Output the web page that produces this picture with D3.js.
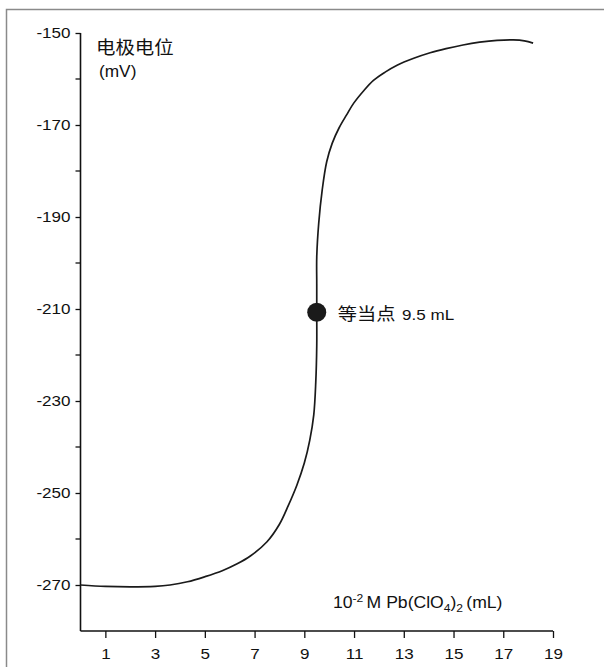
<!DOCTYPE html>
<html>
<head>
<meta charset="utf-8">
<script src="https://cdn.jsdelivr.net/npm/d3@7/dist/d3.min.js"></script>
<style>
  html, body { margin: 0; padding: 0; background: #fff; }
  svg { display: block; }
  text { font-family: "Liberation Sans", Arial, "Noto Sans CJK SC", sans-serif; fill: #111; }
  .cjk { font-family: "Noto Sans CJK SC", "Liberation Sans", sans-serif; }
</style>
</head>
<body>
<svg id="chart" width="604" height="667"></svg>
<script>
// Titrant volume (mL) and measured electrode potential (mV)
const volume = [0.0, 1.0, 2.0, 3.0, 3.6, 4.3, 5.0, 5.7, 6.3, 6.83, 7.5, 8.0, 8.35, 8.7, 9.0, 9.22, 9.38, 9.46, 9.5, 9.5, 9.5, 9.5, 9.58, 9.72, 9.9, 10.12, 10.4, 10.7, 10.98, 11.38, 11.78, 12.25, 12.73, 13.4, 14.06, 14.7, 15.38, 16.05, 16.75, 17.4, 17.85, 18.2];
const potential = [-270.0, -270.3, -270.4, -270.3, -270.0, -269.3, -268.2, -266.9, -265.4, -263.7, -260.6, -256.8, -252.8, -248.3, -243.5, -238.5, -233.0, -226.0, -218.0, -210.7, -204.5, -198.7, -191.3, -184.1, -178.0, -174.0, -170.6, -167.8, -165.3, -162.6, -160.3, -158.5, -157.0, -155.5, -154.3, -153.4, -152.6, -152.0, -151.6, -151.5, -151.7, -152.2];

// Equivalence point
const eqVolume = [9.5];
const eqPotential = [-210.7];

// Axis ticks
const xTicks = [1, 3, 5, 7, 9, 11, 13, 15, 17, 19];
const yMajorTicks = [-150, -170, -190, -210, -230, -250, -270];
const yMinorTicks = [-160, -180, -200, -220, -240, -260];

const svg = d3.select("#chart");
const SX = 1.1; // horizontal stretch of lettering

// widen text horizontally while keeping its anchor point in place
function stretch(sel, s) {
  sel.each(function () {
    const t = d3.select(this);
    const x0 = +t.attr("x") || 0;
    t.attr("x", x0 / s).attr("transform", `scale(${s},1)`);
  });
}

// Outer frame
svg.append("rect")
  .attr("x", 6.5).attr("y", 9.5)
  .attr("width", 640).attr("height", 700)
  .attr("fill", "none").attr("stroke", "#8a8a8a").attr("stroke-width", 1.5);

const x = d3.scaleLinear().domain([0, 19]).range([80.5, 553]);
const y = d3.scaleLinear().domain([-280, -150]).range([631, 33]);

// Y axis
const yAxis = svg.append("g")
  .attr("transform", `translate(${x(0)},0)`)
  .call(d3.axisLeft(y).tickValues(yMajorTicks).tickSize(5).tickPadding(5).tickFormat(d => String(d)));
yAxis.select(".domain").attr("d", `M0,${y(-150)}V${y(-280)}`).attr("stroke", "#111").attr("stroke-width", 1.6);
yAxis.selectAll(".tick line").attr("stroke", "#111").attr("stroke-width", 1.3);
yAxis.selectAll(".tick text")
  .style("font-family", '"Liberation Sans", Arial, sans-serif')
  .attr("font-size", 15.5).attr("fill", "#111");
stretch(yAxis.selectAll(".tick text"), SX);

svg.append("g").selectAll("line")
  .data(yMinorTicks).join("line")
  .attr("x1", x(0) - 5).attr("x2", x(0))
  .attr("y1", d => y(d)).attr("y2", d => y(d))
  .attr("stroke", "#111").attr("stroke-width", 1.3);

// X axis
const xAxis = svg.append("g")
  .attr("transform", `translate(0,${y(-280)})`)
  .call(d3.axisBottom(x).tickValues(xTicks).tickSize(7).tickFormat(d => String(d)));
xAxis.select(".domain").attr("d", `M${x(0)},0H${x(19)}`).attr("stroke", "#111").attr("stroke-width", 1.6);
xAxis.selectAll(".tick line").attr("stroke", "#111").attr("stroke-width", 1.3);
xAxis.selectAll(".tick text")
  .style("font-family", '"Liberation Sans", Arial, sans-serif')
  .attr("font-size", 15.5).attr("fill", "#111")
  .attr("y", 28).attr("dy", null);
stretch(xAxis.selectAll(".tick text"), SX);

// Titration curve
const pts = volume.map((v, i) => [v, potential[i]]);
const line = d3.line()
  .x(d => x(d[0])).y(d => y(d[1]))
  .curve(d3.curveCatmullRom.alpha(0.5));
svg.append("path")
  .datum(pts)
  .attr("d", line)
  .attr("fill", "none").attr("stroke", "#1a1a1a").attr("stroke-width", 1.7);

// Equivalence point marker
svg.append("g").selectAll("circle")
  .data(eqVolume.map((v, i) => [v, eqPotential[i]])).join("circle")
  .attr("cx", d => x(d[0])).attr("cy", d => y(d[1]))
  .attr("r", 9.5).attr("fill", "#1a1a1a");

const eqLabel = svg.append("text")
  .attr("x", x(eqVolume[0]) + 21).attr("y", y(eqPotential[0]) + 8);
eqLabel.append("tspan").attr("class", "cjk").attr("font-size", 17.5).text("等当点");
eqLabel.append("tspan").attr("font-size", 15.5).attr("dx", 6).text(`${eqVolume[0]} mL`);
stretch(eqLabel, SX);

// Y axis title
const yt1 = svg.append("text").attr("class", "cjk")
  .attr("x", 96).attr("y", 54).attr("font-size", 18).text("电极电位");
const yt2 = svg.append("text")
  .attr("x", 99).attr("y", 77).attr("font-size", 16).text("(mV)");
stretch(yt1, 1.08);
stretch(yt2, 1.08);

// X axis title
const xt = svg.append("text").attr("x", 333).attr("y", 608).attr("font-size", 16);
xt.append("tspan").text("10");
xt.append("tspan").attr("font-size", 11).attr("dy", -6).text("-2");
xt.append("tspan").attr("dy", 6).attr("dx", 3).text("M Pb(ClO");
xt.append("tspan").attr("font-size", 11).attr("dy", 4).text("4");
xt.append("tspan").attr("dy", -4).text(")");
xt.append("tspan").attr("font-size", 11).attr("dy", 4).text("2");
xt.append("tspan").attr("dy", -4).attr("dx", 3).text("(mL)");
stretch(xt, SX);
</script>
</body>
</html>
